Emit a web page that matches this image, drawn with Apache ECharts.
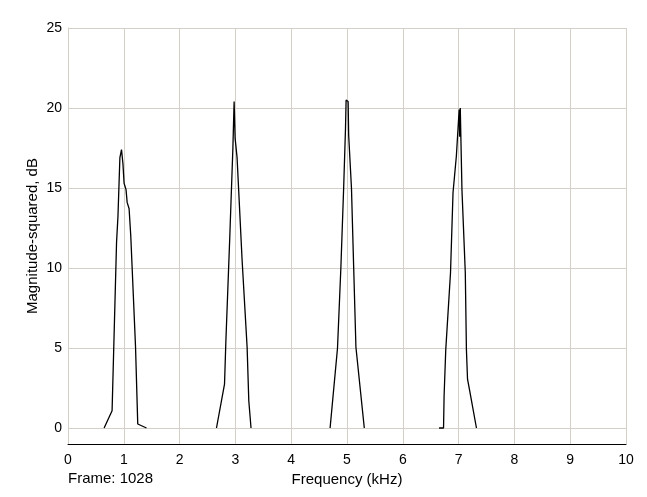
<!DOCTYPE html>
<html>
<head>
<meta charset="utf-8">
<script src="https://cdn.jsdelivr.net/npm/echarts@6/dist/echarts.min.js"></script>
<style>
html,body{margin:0;padding:0;background:#fff;}
#chart{width:647px;height:497px;}
</style>
</head>
<body>
<div id="chart"></div>
<script>
// Peak 1 (~1 kHz)
const freq1 = [0.647, 0.79, 0.87, 0.895, 0.93, 0.959, 0.985, 1.005, 1.04, 1.06, 1.095, 1.125, 1.21, 1.25, 1.407];
const mag1  = [0,     1.08, 11.6, 13.2,  16.9, 17.4,  16.5,  15.3,  14.9, 14.1, 13.7,  12.0,  5.1,  0.25, 0];
// Peak 2 (~3 kHz)
const freq2 = [2.661, 2.805, 2.83, 2.90, 2.955, 2.977, 2.995, 3.03, 3.12, 3.21, 3.24, 3.28];
const mag2  = [0,     2.74,  5.5,  12.0, 17.5,  20.4,  18.1,  16.9, 10.5, 5.05, 1.7,  0];
// Peak 3 (~5 kHz)
const freq3 = [4.697, 4.83, 4.89, 4.94, 4.973, 4.984, 5.02, 5.03, 5.08, 5.12, 5.16, 5.31];
const mag3  = [0,     5.0,  10.0, 15.0, 18.7,  20.5,  20.4, 18.3, 15.0, 10.0, 5.05, 0];
// Peak 4 (~7 kHz)
const freq4 = [6.65, 6.73, 6.74, 6.77, 6.855, 6.90, 6.96, 7.01, 7.02, 7.03, 7.06, 7.12, 7.14, 7.16, 7.20, 7.32];
const mag4  = [0,    0,    2.0,  4.9,  9.7,   14.7, 17.0, 19.9, 18.2, 20.0, 14.9, 9.7,  4.9,  3.05, 2.3,  0];

const xTicks = [0,1,2,3,4,5,6,7,8,9,10];
const yTicks = [0,5,10,15,20,25];

const peaks = [[freq1,mag1],[freq2,mag2],[freq3,mag3],[freq4,mag4]];

const gridColor = '#d4d0c8';
const font = 'Liberation Sans, Arial, Helvetica, sans-serif';

const chart = echarts.init(document.getElementById('chart'), null, {renderer:'canvas'});
chart.setOption({
  animation: false,
  backgroundColor: '#ffffff',
  title: {
    text: 'Frame: 1028',
    left: 68, top: 471,
    padding: 0,
    textStyle: {fontFamily: font, fontSize: 15, fontWeight: 'normal', color: '#000'}
  },
  grid: {left: 68, right: 21, top: 28, bottom: 53, containLabel: false},
  xAxis: {
    type: 'value',
    min: 0, max: 10, interval: 1,
    name: 'Frequency (kHz)',
    nameLocation: 'middle',
    nameGap: 28,
    nameTextStyle: {fontFamily: font, fontSize: 15, color: '#000'},
    axisLine: {show: true, onZero: false, lineStyle: {color: '#000', width: 1}},
    axisTick: {show: false},
    axisLabel: {
      fontFamily: font, fontSize: 14, color: '#000', margin: 9,
      customValues: xTicks
    },
    splitLine: {show: true, lineStyle: {color: gridColor, width: 1}}
  },
  yAxis: {
    type: 'value',
    min: -1, max: 25,
    name: 'Magnitude-squared, dB',
    nameLocation: 'middle',
    nameGap: 28,
    nameMoveOverlap: false,
    nameTextStyle: {fontFamily: font, fontSize: 15, color: '#000'},
    axisLine: {show: true, lineStyle: {color: gridColor, width: 1}},
    axisTick: {show: false, customValues: yTicks},
    axisLabel: {
      fontFamily: font, fontSize: 14, color: '#000', margin: 6,
      customValues: yTicks
    },
    splitLine: {show: true, lineStyle: {color: gridColor, width: 1}}
  },
  series: peaks.map(function(p){
    return {
      type: 'line',
      data: p[0].map(function(f,i){ return [f, p[1][i]]; }),
      showSymbol: false,
      symbol: 'none',
      lineStyle: {color: '#000', width: 1.3},
      silent: true,
      z: 5
    };
  })
});
</script>
</body>
</html>
